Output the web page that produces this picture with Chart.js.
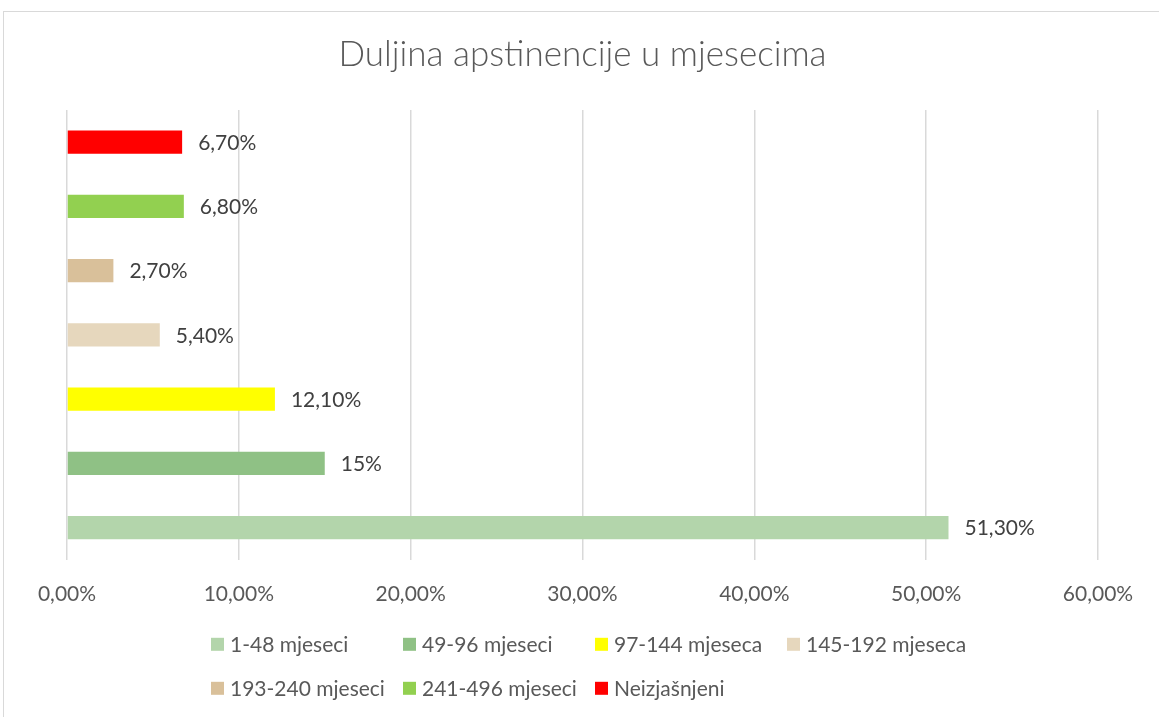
<!DOCTYPE html>
<html>
<head>
<meta charset="utf-8">
<script src="https://cdn.jsdelivr.net/npm/chart.js@4/dist/chart.umd.min.js"></script>
<style>
  html, body { margin: 0; padding: 0; background: #ffffff; }
  #wrap { position: absolute; left: 0; top: 0; width: 1159px; height: 717px; }
</style>
</head>
<body>
<div id="wrap"><canvas id="c" width="1159" height="717"></canvas></div>
<script>
// ---- data ----
const categories = ['1-48 mjeseci', '49-96 mjeseci', '97-144 mjeseca', '145-192 mjeseca', '193-240 mjeseci', '241-496 mjeseci', 'Neizjašnjeni'];
const values = [51.3, 15, 12.1, 5.4, 2.7, 6.8, 6.7];
const valueLabels = ['51,30%', '15%', '12,10%', '5,40%', '2,70%', '6,80%', '6,70%'];
const colors = ['#b3d5ab', '#8fc185', '#ffff00', '#e6d7bd', '#d9c09a', '#92d050', '#ff0000'];
const tickLabels = ['0,00%', '10,00%', '20,00%', '30,00%', '40,00%', '50,00%', '60,00%'];
const titleText = 'Duljina apstinencije u mjesecima';

const FONT = 'Lato, "Open Sans", sans-serif';

// datasets in reverse so the first category sits at the bottom
const datasets = categories.map((name, i) => ({
  label: name,
  data: [values[i]],
  backgroundColor: colors[i],
  borderWidth: 0,
  categoryPercentage: 1,
  barPercentage: 0.36
})).reverse();

const outerBorder = {
  id: 'outerBorder',
  beforeDraw(chart) {
    const ctx = chart.ctx;
    ctx.save();
    ctx.strokeStyle = '#d9d9d9';
    ctx.lineWidth = 1;
    ctx.strokeRect(3.5, 11.5, chart.width + 20, chart.height + 20);
    ctx.restore();
  }
};

const valueLabelPlugin = {
  id: 'valueLabels',
  afterDatasetsDraw(chart) {
    const ctx = chart.ctx;
    ctx.save();
    ctx.font = '21px ' + FONT;
    ctx.fillStyle = '#404040';
    ctx.textAlign = 'left';
    ctx.textBaseline = 'middle';
    chart.data.datasets.forEach((ds, di) => {
      const meta = chart.getDatasetMeta(di);
      const el = meta.data[0];
      const idx = categories.indexOf(ds.label);
      ctx.fillText(valueLabels[idx], el.x + 16, el.y + 1);
    });
    ctx.restore();
  }
};

const customLegend = {
  id: 'customLegend',
  afterDraw(chart) {
    const ctx = chart.ctx;
    const area = chart.chartArea;
    const startX = 211, colW = 192, perRow = 4;
    const rowY = [area.bottom + 85, area.bottom + 129];
    ctx.save();
    ctx.font = '21px ' + FONT;
    ctx.textBaseline = 'middle';
    ctx.textAlign = 'left';
    categories.forEach((name, i) => {
      const r = Math.floor(i / perRow), c = i % perRow;
      const x = startX + c * colW, y = rowY[r];
      ctx.fillStyle = colors[i];
      ctx.fillRect(x, y - 7, 13, 13);
      ctx.fillStyle = '#595959';
      ctx.fillText(name, x + 19, y);
    });
    ctx.restore();
  }
};

new Chart(document.getElementById('c'), {
  type: 'bar',
  data: { labels: [''], datasets },
  options: {
    indexAxis: 'y',
    responsive: false,
    animation: false,
    layout: { padding: { left: 67, right: 61, top: 0, bottom: 88 } },
    plugins: {
      legend: { display: false },
      tooltip: { enabled: false },
      title: {
        display: true,
        text: titleText,
        color: '#595959',
        font: { family: FONT, size: 35, weight: '300', lineHeight: 1.2 },
        padding: { top: 34, bottom: 34 }
      }
    },
    scales: {
      x: {
        min: 0, max: 60,
        ticks: {
          stepSize: 10,
          color: '#595959',
          font: { family: FONT, size: 21 },
          padding: 22,
          callback: (v, i) => tickLabels[i]
        },
        grid: { color: '#d9d9d9', lineWidth: 1.5, drawTicks: false },
        border: { display: false }
      },
      y: { display: false }
    }
  },
  plugins: [outerBorder, valueLabelPlugin, customLegend]
});
</script>
</body>
</html>
